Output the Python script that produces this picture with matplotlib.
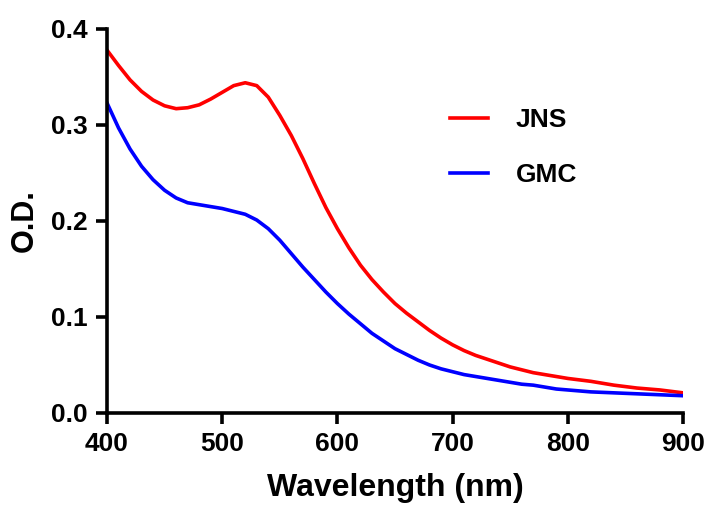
import matplotlib
matplotlib.use("Agg")
import matplotlib.pyplot as plt

wavelength = [400, 410, 420, 430, 440, 450, 460, 470, 480, 490, 500, 510, 520, 530,
              540, 550, 560, 570, 580, 590, 600, 610, 620, 630, 640, 650, 660, 670,
              680, 690, 700, 710, 720, 730, 740, 750, 760, 770, 780, 790, 800, 820,
              840, 860, 880, 900]
jns = [0.378, 0.362, 0.347, 0.335, 0.326, 0.320, 0.317, 0.318, 0.321, 0.327, 0.334,
       0.341, 0.344, 0.341, 0.329, 0.310, 0.289, 0.265, 0.239, 0.214, 0.192, 0.172,
       0.154, 0.139, 0.126, 0.114, 0.104, 0.095, 0.086, 0.078, 0.071, 0.065, 0.060,
       0.056, 0.052, 0.048, 0.045, 0.042, 0.040, 0.038, 0.036, 0.033, 0.029, 0.026,
       0.024, 0.021]
gmc = [0.323, 0.297, 0.275, 0.257, 0.243, 0.232, 0.224, 0.219, 0.217, 0.215, 0.213,
       0.210, 0.207, 0.201, 0.192, 0.180, 0.166, 0.152, 0.139, 0.126, 0.114, 0.103,
       0.093, 0.083, 0.075, 0.067, 0.061, 0.055, 0.050, 0.046, 0.043, 0.040, 0.038,
       0.036, 0.034, 0.032, 0.030, 0.029, 0.027, 0.025, 0.024, 0.022, 0.021, 0.020,
       0.019, 0.018]
xticks = [400, 500, 600, 700, 800, 900]
yticks = [0.0, 0.1, 0.2, 0.3, 0.4]

plt.rcParams['font.family'] = ['Liberation Sans', 'DejaVu Sans']
plt.rcParams['font.weight'] = 'bold'

fig = plt.figure(figsize=(7.10, 5.08), dpi=100)
ax = fig.add_axes([107/710, 1-413/508, (683-107)/710, (413-29)/508])

ax.plot(wavelength, jns, color='#ff0000', lw=2.6, label='JNS')
ax.plot(wavelength, gmc, color='#0000ff', lw=2.6, label='GMC')

ax.set_xlim(400, 900)
ax.set_ylim(0, 0.4)
ax.set_xticks(xticks)
ax.set_yticks(yticks)
ax.set_yticklabels([f"{v:.1f}" for v in yticks])
for s in ['top', 'right']:
    ax.spines[s].set_visible(False)
for s in ['left', 'bottom']:
    ax.spines[s].set_linewidth(2.6)
ax.tick_params(axis='both', direction='out', length=8, width=2.6, labelsize=19, pad=6)
for lab in ax.get_xticklabels() + ax.get_yticklabels():
    lab.set_fontweight('bold')

ax.set_xlabel('Wavelength (nm)', fontsize=23, fontweight='bold', labelpad=12)
ax.set_ylabel('O.D.', fontsize=22, fontweight='bold', labelpad=8)

leg = ax.legend(loc='center left', bbox_to_anchor=(0.554, 0.691), frameon=False,
                fontsize=19, handlelength=1.45, handletextpad=1.05, labelspacing=1.15)
for t in leg.get_texts():
    t.set_fontweight('bold')
for l in leg.get_lines():
    l.set_linewidth(2.6)

fig.savefig('out.png', dpi=100)
